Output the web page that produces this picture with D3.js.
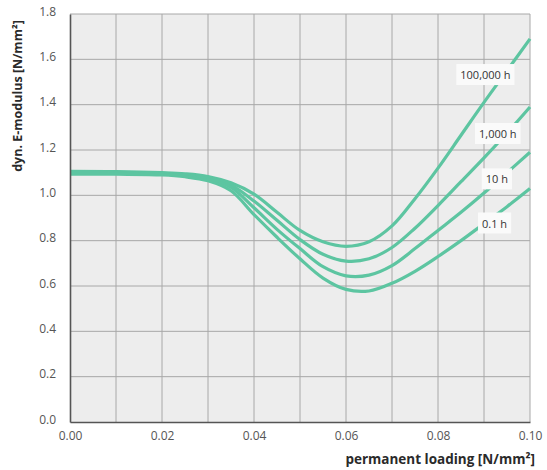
<!DOCTYPE html>
<html>
<head>
<meta charset="utf-8">
<script src="https://cdn.jsdelivr.net/npm/d3@7"></script>
<style>
  body { margin: 0; background: #fff; }
  svg text { font-family: "Open Sans", sans-serif; }
</style>
</head>
<body>
<script>
// values
var loading = [0, 0.01, 0.02, 0.025, 0.03, 0.035, 0.04, 0.045, 0.05, 0.055, 0.06, 0.065, 0.07, 0.075, 0.08, 0.085, 0.09, 0.095, 0.10];

var e100000h = [1.106, 1.105, 1.100, 1.095, 1.083, 1.055, 1.005, 0.925, 0.845, 0.795, 0.775, 0.795, 0.865, 0.985, 1.120, 1.265, 1.410, 1.550, 1.690];
var e1000h   = [1.102, 1.101, 1.097, 1.091, 1.077, 1.045, 0.975, 0.890, 0.805, 0.740, 0.710, 0.720, 0.770, 0.855, 0.955, 1.060, 1.165, 1.275, 1.390];
var e10h     = [1.098, 1.097, 1.094, 1.087, 1.071, 1.035, 0.945, 0.850, 0.765, 0.685, 0.645, 0.648, 0.690, 0.765, 0.845, 0.925, 1.010, 1.100, 1.190];
var e01h     = [1.094, 1.093, 1.090, 1.082, 1.064, 1.020, 0.915, 0.815, 0.720, 0.635, 0.585, 0.578, 0.612, 0.665, 0.730, 0.800, 0.875, 0.950, 1.030];

var seriesNames = ["100,000 h", "1,000 h", "10 h", "0.1 h"];
var seriesValues = [e100000h, e1000h, e10h, e01h];

var xTicks = [0, 0.02, 0.04, 0.06, 0.08, 0.10];
var yTicks = [0, 0.2, 0.4, 0.6, 0.8, 1.0, 1.2, 1.4, 1.6, 1.8];

var W = 547, H = 470;
var margin = {top: 14, right: 17, bottom: 48, left: 70};
var width = W - margin.left - margin.right,
    height = H - margin.top - margin.bottom;

var svg = d3.select("body").append("svg")
    .attr("width", W)
    .attr("height", H);

var g = svg.append("g")
    .attr("transform", "translate(" + margin.left + "," + margin.top + ")");

var x = d3.scaleLinear().domain([0, 0.10]).range([0, width]);
var y = d3.scaleLinear().domain([0, 1.8]).range([height, 0]);

// plot background
g.append("rect")
    .attr("width", width)
    .attr("height", height)
    .attr("fill", "#ededed");

// grid
g.append("g").selectAll("line")
    .data(d3.range(1, 11).map(function(i) { return i / 100; }))
  .enter().append("line")
    .attr("x1", function(d) { return x(d); })
    .attr("x2", function(d) { return x(d); })
    .attr("y1", 0).attr("y2", height)
    .attr("stroke", "#a8a8a8")
    .attr("stroke-width", 1);

g.append("g").selectAll("line")
    .data(yTicks.slice(1))
  .enter().append("line")
    .attr("y1", function(d) { return y(d); })
    .attr("y2", function(d) { return y(d); })
    .attr("x1", 0).attr("x2", width)
    .attr("stroke", "#a8a8a8")
    .attr("stroke-width", 1);

// curves
var line = d3.line()
    .x(function(d) { return x(d[0]); })
    .y(function(d) { return y(d[1]); })
    .curve(d3.curveCatmullRom.alpha(0.5));

g.append("g").selectAll("path")
    .data(seriesValues)
  .enter().append("path")
    .attr("d", function(vals) { return line(loading.map(function(l, i) { return [l, vals[i]]; })); })
    .attr("fill", "none")
    .attr("stroke", "#5dc5a1")
    .attr("stroke-width", 3.2);

// curve labels, white boxes hide the line under them
var labelAt = [[0.0903, 1.53], [0.0930, 1.27], [0.0928, 1.07], [0.0923, 0.875]];
var labels = g.append("g").selectAll("g")
    .data(seriesNames)
  .enter().append("g")
    .attr("transform", function(d, i) { return "translate(" + x(labelAt[i][0]) + "," + y(labelAt[i][1]) + ")"; });

labels.append("text")
    .text(function(d) { return d; })
    .attr("text-anchor", "middle")
    .attr("dy", "0.35em")
    .attr("font-size", 11)
    .attr("fill", "#333");

labels.each(function() {
  var grp = d3.select(this);
  var bb = grp.select("text").node().getBBox();
  grp.insert("rect", "text")
      .attr("x", bb.x - 4)
      .attr("y", bb.y - 3)
      .attr("width", bb.width + 8)
      .attr("height", bb.height + 6)
      .attr("fill", "#fafafa");
});

// axes
var xAxis = d3.axisBottom(x).tickValues(xTicks).tickFormat(d3.format(".2f")).tickSize(0).tickPadding(9);
var yAxis = d3.axisLeft(y).tickValues(yTicks).tickFormat(d3.format(".1f")).tickSize(0).tickPadding(14);

var gx = g.append("g")
    .attr("transform", "translate(0," + height + ")")
    .call(xAxis);
var gy = g.append("g").call(yAxis);

[gx, gy].forEach(function(ax) {
  ax.select(".domain").attr("stroke", "#555").attr("stroke-width", 1.6);
  ax.selectAll("text").attr("font-size", 12).attr("fill", "#555")
    .style("font-family", "'Open Sans', sans-serif");
});
gy.selectAll(".tick text").attr("dy", "0.1em");

// axis titles
svg.append("text")
    .text("permanent loading [N/mm²]")
    .attr("x", 535)
    .attr("y", 464)
    .attr("text-anchor", "end")
    .attr("font-size", 13.5)
    .attr("font-weight", "bold")
    .attr("fill", "#2a2a2a");

svg.append("text")
    .text("dyn. E-modulus [N/mm²]")
    .attr("transform", "translate(22,96) rotate(-90)")
    .attr("text-anchor", "middle")
    .attr("font-size", 12.5)
    .attr("font-weight", "bold")
    .attr("fill", "#2a2a2a");
</script>
</body>
</html>
